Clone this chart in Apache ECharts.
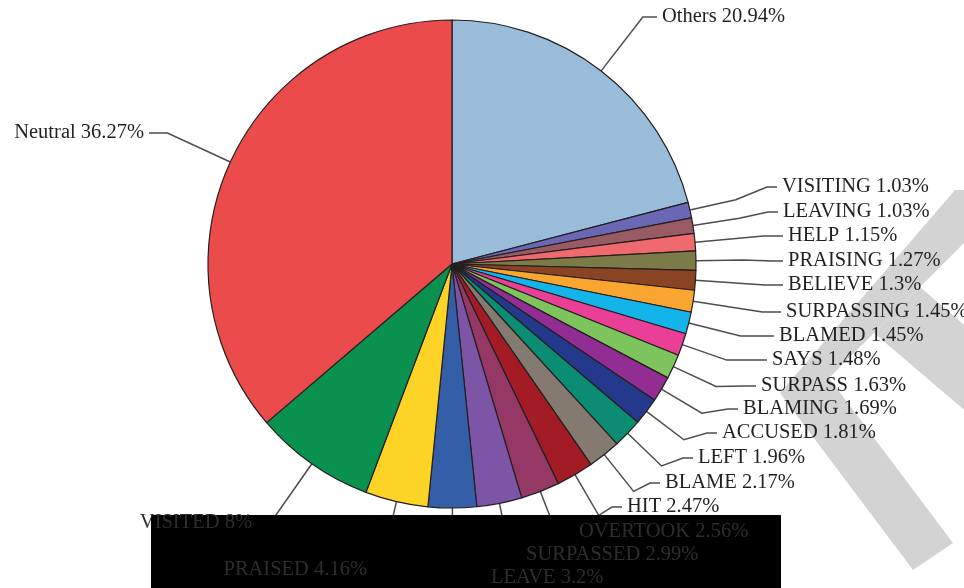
<!DOCTYPE html>
<html><head><meta charset="utf-8">
<script src="https://cdn.jsdelivr.net/npm/echarts@6/dist/echarts.min.js"></script>
<style>html,body{margin:0;padding:0;background:#fff}#c{width:964px;height:588px}</style>
</head><body><div id="c"></div>
<script>
// ---- data ----
const categories = ['Others','VISITING','LEAVING','HELP','PRAISING','BELIEVE','SURPASSING','BLAMED','SAYS','SURPASS','BLAMING','ACCUSED','LEFT','BLAME','HIT','OVERTOOK','SURPASSED','LEAVE','PRAISED','VISITED','Neutral'];
const shares = [20.94,1.03,1.03,1.15,1.27,1.3,1.45,1.45,1.48,1.63,1.69,1.81,1.96,2.17,2.47,2.56,2.99,3.2,4.16,8,36.27];
const sliceColors = ['#98bcd9','#6a68b5','#985a63','#ef6a6e','#7c7b48','#8b4423','#f9a52f','#13b4e9','#ea3f96','#7ec45c','#922d94','#24398c','#0b8d74','#847a70','#a31b25','#963866','#7c55a6','#355ea9','#fdd325','#0a9150','#ec4b4b'];
// labels whose text sits on the black band
const maskedLabels = ['OVERTOOK','SURPASSED','LEAVE','PRAISED','VISITED'];

// ---- layout / style (not data) ----
const CX = 452, CY = 264, R = 244;
const RADIAL = 47, GAP = 5, HORIZ = 10;
const labelAnchor = {
  'Others':[662,17,'left'],'VISITING':[782,187,'left'],'LEAVING':[783,212,'left'],'HELP':[788,236,'left'],
  'PRAISING':[788,261,'left'],'BELIEVE':[788,285,'left'],'SURPASSING':[786,312,'left'],'BLAMED':[779,336,'left'],
  'SAYS':[772,360,'left'],'SURPASS':[761,386,'left'],'BLAMING':[743,409,'left'],'ACCUSED':[722,433,'left'],
  'LEFT':[698,458,'left'],'BLAME':[665,483,'left'],'HIT':[627,507,'left'],'OVERTOOK':[579,532,'left'],
  'SURPASSED':[526,555,'left'],'LEAVE':[491,578,'left'],'PRAISED':[367,570,'right'],'VISITED':[252,523,'right'],
  'Neutral':[144,133,'right']
};
const FONT = {fontFamily:"'Liberation Serif','DejaVu Serif',serif", fontSize:20.5};

function makeLayout(withLines){
  return function(params){
    const name = categories[params.dataIndex];
    const a = labelAnchor[name];
    const res = {x:a[0], y:a[1], align:a[2], verticalAlign:'middle'};
    if (withLines && params.labelLinePoints) {
      const p0 = params.labelLinePoints[0];
      const dx = p0[0]-CX, dy = p0[1]-CY, len = Math.hypot(dx,dy) || 1;
      const ux = dx/len, uy = dy/len;
      const s = a[2]==='left' ? -1 : 1;
      const elbowX = a[0]+s*(GAP+HORIZ);
      const end = [a[0]+s*GAP, a[1]];
      // does the radial direction reach the label row before the elbow?
      const t = Math.abs(uy) > 1e-6 ? (a[1]-p0[1])/uy : -1;
      const xt = p0[0] + ux*t;
      const before = s < 0 ? xt <= elbowX : xt >= elbowX;
      if (t >= RADIAL && t <= 90 && before) {
        res.labelLinePoints = [p0, [xt, a[1]], end];
      } else {
        const p1 = [p0[0]+ux*RADIAL, p0[1]+uy*RADIAL];
        res.labelLinePoints = [p0, p1, [elbowX, a[1]], end];
      }
    }
    return res;
  };
}

const mainData = categories.map((n,i)=>({
  name:n, value:shares[i], itemStyle:{color:sliceColors[i]}
}));
const topData = categories.map((n,i)=>({
  name:n, value:shares[i], label:{show: maskedLabels.indexOf(n) >= 0}
}));

const WM = '#d3d3d3';
const chart = echarts.init(document.getElementById('c'), null, {renderer:'canvas'});
chart.setOption({
  backgroundColor:'#ffffff',
  animation:false,
  graphic:[
    {type:'polygon', z:0, silent:true,
     shape:{points:[[955,190],[1017,190],[829,378],[953,543],[913,570],[780,393]]},
     style:{fill:WM}},
    {type:'polygon', z:0, silent:true,
     shape:{points:[[920,287],[990,347],[990,432],[874,333]]},
     style:{fill:WM}},
    {type:'rect', z:5, silent:true, shape:{x:151,y:515,width:630,height:73}, style:{fill:'#000000'}}
  ],
  series:[
    {
      type:'pie', z:2, center:[CX,CY], radius:[0,R], startAngle:90, clockwise:true,
      avoidLabelOverlap:false, silent:true,
      data:mainData,
      itemStyle:{borderColor:'#231f20', borderWidth:1.2},
      label:Object.assign({show:true, color:'#231f20',
        formatter:p => maskedLabels.indexOf(p.name) >= 0 ? ' ' : p.name + ' ' + p.value + '%'}, FONT),
      labelLine:{show:true, length:20, length2:10, smooth:false, lineStyle:{color:'#4d4d4d', width:1.5}},
      labelLayout:makeLayout(true),
      emphasis:{disabled:true}
    },
    {
      type:'pie', z:8, center:[CX,CY], radius:[0,R], startAngle:90, clockwise:true,
      avoidLabelOverlap:false, silent:true,
      data:topData,
      itemStyle:{color:'rgba(0,0,0,0)', borderWidth:0},
      label:Object.assign({color:'#2e2e2e', formatter:p => p.name + ' ' + p.value + '%'}, FONT),
      labelLine:{show:false},
      labelLayout:makeLayout(false),
      emphasis:{disabled:true}
    }
  ]
});
</script>
</body></html>
